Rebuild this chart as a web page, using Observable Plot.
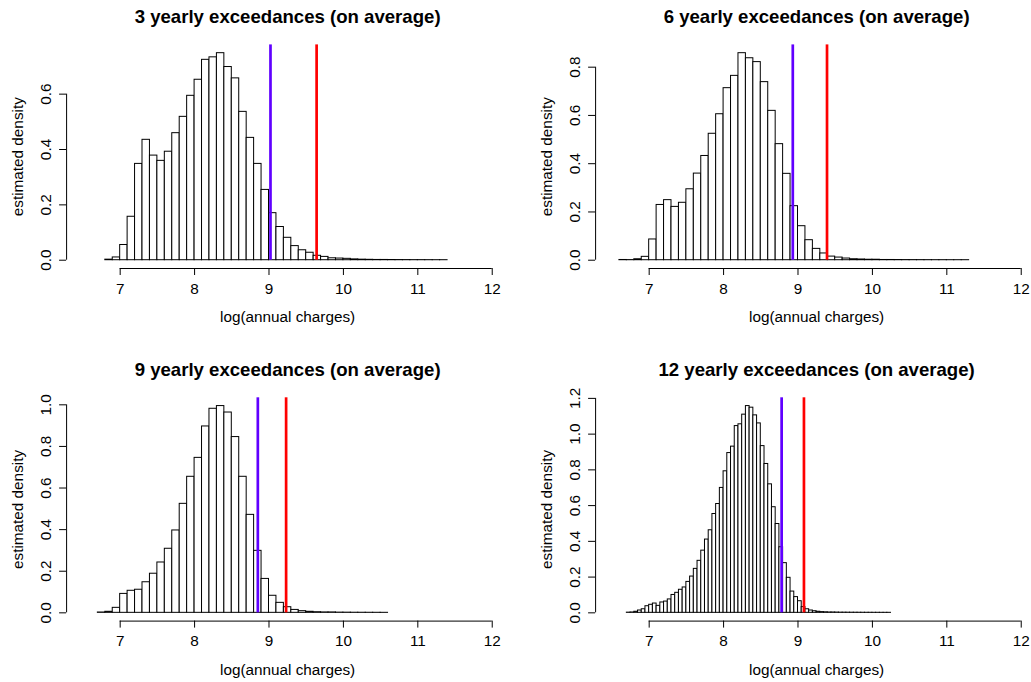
<!DOCTYPE html>
<html><head><meta charset="utf-8">
<script src="https://cdn.jsdelivr.net/npm/d3@7"></script>
<script src="https://cdn.jsdelivr.net/npm/@observablehq/plot@0.6"></script>
<style>
html,body{margin:0;padding:0;background:#fff;overflow:hidden}
#wrap{position:relative;width:1031px;height:682px;overflow:hidden;background:#fff}
#wrap svg{position:absolute;}
</style></head><body><div id="wrap"></div>
<script>
// ---------- data ----------
const titles = [
  "3 yearly exceedances (on average)",
  "6 yearly exceedances (on average)",
  "9 yearly exceedances (on average)",
  "12 yearly exceedances (on average)"
];
const xLabel = "log(annual charges)";
const yLabel = "estimated density";
const binStarts = [6.8, 6.6, 6.7, 6.7];
const binWidths = [0.1, 0.1, 0.1, 0.05];
const dens3 = [0.002,0.010,0.055,0.157,0.348,0.435,0.378,0.359,0.392,0.459,0.518,0.594,0.652,0.724,0.733,0.748,0.698,0.657,0.536,0.442,0.348,0.254,0.170,0.120,0.081,0.051,0.036,0.027,0.016,0.012,0.007,0.006,0.005,0.003,0.002,0.0015,0.001,0.001,0.0008,0.0006,0.0005,0.0003,0.0003,0.0002,0.0001,0.0001];
const dens6 = [0.001,0.0005,0.004,0.014,0.086,0.229,0.249,0.221,0.238,0.294,0.359,0.432,0.524,0.605,0.713,0.764,0.858,0.837,0.821,0.738,0.619,0.481,0.358,0.224,0.141,0.083,0.047,0.028,0.015,0.011,0.007,0.004,0.003,0.002,0.002,0.001,0.001,0.0008,0.0006,0.0005,0.0004,0.0003,0.0002,0.0002,0.0001,0.0001,0.0001];
const dens9 = [0.0016,0.005,0.024,0.091,0.106,0.111,0.147,0.188,0.242,0.308,0.396,0.524,0.654,0.745,0.896,0.981,0.994,0.963,0.845,0.654,0.471,0.298,0.163,0.082,0.048,0.027,0.014,0.008,0.005,0.003,0.002,0.002,0.001,0.0008,0.0005,0.0004,0.0003,0.0002,0.0001];
const dens12 = [0.001,0.002,0.006,0.013,0.020,0.037,0.045,0.052,0.039,0.058,0.063,0.075,0.100,0.112,0.129,0.142,0.173,0.203,0.246,0.291,0.348,0.410,0.462,0.553,0.609,0.699,0.792,0.894,0.930,1.045,1.055,1.109,1.157,1.148,1.105,1.060,0.933,0.833,0.719,0.591,0.497,0.367,0.278,0.196,0.119,0.088,0.065,0.032,0.020,0.013,0.009,0.006,0.004,0.003,0.002,0.002,0.0015,0.001,0.001,0.0008,0.0007,0.0006,0.0005,0.0004,0.0003,0.0003,0.0002,0.0002,0.0001,0.0001,0.0001];
const blueLines = [9.02, 8.93, 8.85, 8.78];
const redLines = [9.64, 9.39, 9.23, 9.08];
const xTicks = [7, 8, 9, 10, 11, 12];
const yTicks3 = [0, 0.2, 0.4, 0.6];
const yTicks6 = [0, 0.2, 0.4, 0.6, 0.8];
const yTicks9 = [0, 0.2, 0.4, 0.6, 0.8, 1.0];
const yTicks12 = [0, 0.2, 0.4, 0.6, 0.8, 1.0, 1.2];
const xlim = [6.5, 12];

// ---------- layout ----------
const densAll = [dens3, dens6, dens9, dens12];
const yTicksAll = [yTicks3, yTicks6, yTicks9, yTicks12];
const panels = [
  {left: 0,   top: 0,   W: 516, H: 340, fl: 66.1, fr: 508.1, ft: 44.4, fb: 268},
  {left: 515, top: 0,   W: 523, H: 340, fl: 80.1, fr: 522.1, ft: 44.4, fb: 268},
  {left: 0,   top: 340, W: 516, H: 342, fl: 66.1, fr: 508.1, ft: 57.3, fb: 280.6},
  {left: 515, top: 340, W: 523, H: 342, fl: 80.1, fr: 522.1, ft: 57.3, fb: 280.6}
];
const FONT = "'Liberation Sans', Arial, Helvetica, sans-serif";
const FS = 15.3, FS_TITLE = 18.6;
const BLUE = "#6000ff", RED = "#ff0000";
const wrap = document.getElementById("wrap");

panels.forEach((p, i) => {
  const dens = densAll[i];
  const bins = dens.map((d, k) => ({
    x1: binStarts[i] + k * binWidths[i],
    x2: binStarts[i] + (k + 1) * binWidths[i],
    d
  }));
  const M = d3.max(dens);
  const xr = xlim[1] - xlim[0];
  const xDom = [xlim[0] - 0.04 * xr, xlim[1] + 0.04 * xr];
  const yDom = [-0.04 * M, 1.04 * M];
  const yTicks = yTicksAll[i];
  const chart = Plot.plot({
    width: p.W, height: p.H,
    marginLeft: p.fl, marginRight: p.W - p.fr, marginTop: p.ft, marginBottom: p.H - p.fb,
    x: {domain: xDom},
    y: {domain: yDom},
    style: {fontFamily: FONT, fontSize: FS + "px", color: "black", background: "transparent", overflow: "visible"},
    marks: [
      Plot.rect(bins, {x1: "x1", x2: "x2", y1: 0, y2: "d", fill: "white", stroke: "black", strokeWidth: 1}),
      Plot.ruleX([blueLines[i]], {y1: 0, y2: yDom[1], stroke: BLUE, strokeWidth: 2.7}),
      Plot.ruleX([redLines[i]], {y1: 0, y2: yDom[1], stroke: RED, strokeWidth: 2.7}),
      Plot.ruleY([yDom[0]], {x1: xTicks[0], x2: xTicks[xTicks.length - 1], stroke: "black", strokeWidth: 1}),
      Plot.ruleX([xDom[0]], {y1: yTicks[0], y2: yTicks[yTicks.length - 1], stroke: "black", strokeWidth: 1}),
      Plot.axisX({ticks: xTicks, tickSize: 7, tickFormat: () => null, label: null, strokeOpacity: 1}),
      Plot.axisY({ticks: yTicks, tickSize: 7, tickFormat: () => null, label: null, strokeOpacity: 1}),
      Plot.text(xTicks, {x: d => d, frameAnchor: "bottom", dy: 20.4, lineAnchor: "middle", textAnchor: "middle", text: d => String(d), fontSize: FS}),
      Plot.text(yTicks, {y: d => d, frameAnchor: "left", dx: -21, rotate: -90, lineAnchor: "middle", textAnchor: "middle", text: d => d.toFixed(1), fontSize: FS}),
      Plot.text([titles[i]], {frameAnchor: "top", dy: -27.5, lineAnchor: "middle", textAnchor: "middle", fontWeight: "bold", fontSize: FS_TITLE}),
      Plot.text([xLabel], {frameAnchor: "bottom", dy: 48.7, lineAnchor: "middle", textAnchor: "middle", fontSize: FS}),
      Plot.text([yLabel], {frameAnchor: "left", dx: -49, rotate: -90, lineAnchor: "middle", textAnchor: "middle", fontSize: FS})
    ]
  });
  chart.style.left = p.left + "px";
  chart.style.top = p.top + "px";
  wrap.appendChild(chart);
});
</script></body></html>
